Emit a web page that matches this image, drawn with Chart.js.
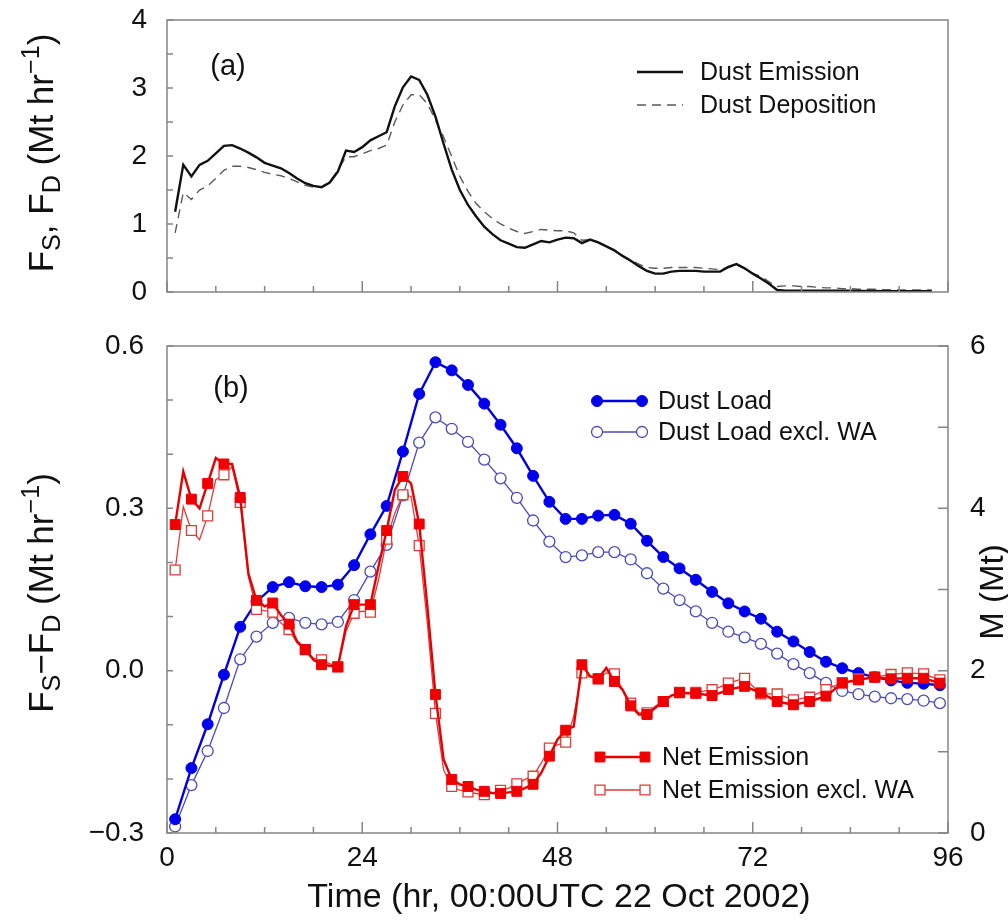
<!DOCTYPE html>
<html><head><meta charset="utf-8">
<script src="https://cdn.jsdelivr.net/npm/chart.js@4.4.1/dist/chart.umd.min.js"></script>
<style>
html,body{margin:0;padding:0;background:#fff;width:1008px;height:924px;overflow:hidden}
#c1{position:absolute;left:0;top:0}
#c2{position:absolute;left:0;top:320px}
</style></head><body>
<canvas id="c1" width="1008" height="320"></canvas>
<canvas id="c2" width="1008" height="604"></canvas>
<script>
// ---------- DATA ----------
const hoursTop = [1,2,3,4,5,6,7,8,9,10,11,12,13,14,15,16,17,18,19,20,21,22,23,24,25,26,27,28,29,30,
  31,32,33,34,35,36,37,38,39,40,41,42,43,44,45,46,47,48,49,50,51,52,53,54,55,56,57,58,59,60,
  61,62,63,64,65,66,67,68,69,70,71,72,73,74,75,76,77,78,79,80,81,82,83,84,85,86,87,88,89,90,91,92,93,94];
const dustEmission = [1.18,1.87,1.70,1.87,1.93,2.04,2.15,2.16,2.11,2.05,
  1.98,1.90,1.86,1.82,1.75,1.67,1.60,1.56,1.54,1.61,
  1.77,2.08,2.06,2.13,2.23,2.29,2.35,2.73,3.01,3.17,
  3.12,2.90,2.58,2.18,1.80,1.50,1.28,1.11,0.96,0.85,
  0.76,0.71,0.66,0.65,0.70,0.75,0.73,0.77,0.80,0.79,
  0.72,0.77,0.73,0.67,0.61,0.53,0.46,0.38,0.31,0.27,
  0.27,0.30,0.31,0.31,0.31,0.30,0.30,0.30,0.37,0.41,
  0.35,0.27,0.20,0.12,0.03,
  0.02,0.02,0.02,0.02,0.02,0.02,0.02,0.02,0.02,0.015,0.015,0.015,0.01,0.01,0.01,0.01,0.01,0.01,0.01];
const dustDeposition = [0.87,1.46,1.36,1.50,1.56,1.67,1.79,1.85,1.85,1.83,
  1.80,1.76,1.73,1.71,1.67,1.62,1.57,1.54,1.55,1.62,
  1.79,1.99,1.99,2.03,2.08,2.11,2.16,2.50,2.75,2.90,
  2.90,2.77,2.53,2.28,1.99,1.70,1.48,1.30,1.18,1.08,
  1.00,0.94,0.89,0.86,0.89,0.92,0.91,0.90,0.90,0.87,
  0.76,0.77,0.73,0.68,0.62,0.54,0.47,0.41,0.36,0.35,
  0.35,0.36,0.36,0.36,0.36,0.35,0.34,0.33,0.36,0.40,
  0.34,0.27,0.23,0.15,0.08,
  0.09,0.09,0.08,0.08,0.07,0.06,0.06,0.05,0.05,0.04,0.04,0.04,0.035,0.035,0.03,0.03,0.03,0.03,0.03];

const loadHours = [1,3,5,7,9,11,13,15,17,19,21,23,25,27,29,31,33,35,37,39,41,43,45,47,
  49,51,53,55,57,59,61,63,65,67,69,71,73,75,77,79,81,83,85,87,89,91,93,95];
const dustLoad = [0.17,0.80,1.34,1.95,2.54,2.85,3.03,3.09,3.04,3.03,3.06,3.30,3.68,4.03,4.70,5.41,5.80,5.70,5.52,5.29,5.03,4.74,4.40,4.08,
  3.87,3.87,3.91,3.92,3.81,3.60,3.40,3.26,3.12,2.97,2.83,2.73,2.64,2.48,2.36,2.23,2.11,2.03,1.97,1.92,1.88,1.85,1.84,1.82];
const dustLoadExcl = [0.08,0.59,1.01,1.54,2.14,2.42,2.59,2.65,2.59,2.57,2.60,2.87,3.22,3.55,4.16,4.81,5.12,4.98,4.82,4.60,4.37,4.13,3.85,3.59,
  3.40,3.42,3.46,3.46,3.37,3.20,3.01,2.87,2.73,2.59,2.48,2.41,2.33,2.21,2.08,1.97,1.85,1.75,1.71,1.68,1.66,1.65,1.63,1.60];

const netHours = [1,2,3,4,5,6,7,8,9,10,11,12,13,14,15,16,17,18,19,20,21,22,23,24,25,26,27,28,29,30,
  31,32,33,34,35,36,37,38,39,40,41,42,43,44,45,46,47,48,49,50,51,52,53,54,55,56,57,58,59,60,
  61,62,63,64,65,66,67,68,69,71,73,75,77,79,81,83,85,87,89,91,93,95];
const netEmission = [0.270,0.368,0.317,0.300,0.346,0.393,0.382,0.382,0.320,0.180,
  0.130,0.119,0.125,0.103,0.086,0.054,0.039,0.020,0.011,0.009,
  0.007,0.082,0.122,0.122,0.122,0.193,0.259,0.334,0.359,0.346,
  0.271,0.119,-0.044,-0.164,-0.201,-0.210,-0.214,-0.220,-0.223,-0.226,
  -0.227,-0.225,-0.223,-0.217,-0.210,-0.189,-0.158,-0.127,-0.110,-0.103,
  0.011,-0.010,-0.015,0.005,-0.020,-0.035,-0.065,-0.081,-0.081,-0.069,
  -0.057,-0.046,-0.041,-0.042,-0.042,-0.044,-0.046,-0.041,-0.035,
  -0.029,-0.041,-0.057,-0.063,-0.057,-0.047,-0.023,-0.017,-0.012,-0.015,-0.014,-0.014,-0.023];
const netEmissionExcl = [0.186,0.303,0.259,0.242,0.286,0.353,0.362,0.377,0.311,0.174,
  0.113,0.111,0.108,0.088,0.076,0.051,0.039,0.023,0.020,0.013,
  0.007,0.073,0.106,0.110,0.108,0.168,0.243,0.291,0.325,0.322,
  0.231,0.088,-0.079,-0.183,-0.214,-0.221,-0.224,-0.227,-0.229,-0.226,
  -0.221,-0.217,-0.209,-0.201,-0.195,-0.171,-0.143,-0.137,-0.132,-0.084,
  -0.004,-0.012,-0.015,-0.004,-0.006,-0.035,-0.060,-0.078,-0.078,-0.066,
  -0.057,-0.046,-0.040,-0.040,-0.040,-0.038,-0.035,-0.030,-0.023,
  -0.014,-0.043,-0.043,-0.054,-0.049,-0.035,-0.022,-0.015,-0.012,-0.007,-0.004,-0.006,-0.017];

const xTickLabels = [0,24,48,72,96];
const topYLabels = [0,1,2,3,4];
const leftYLabels = [-0.3,0.0,0.3,0.6];
const rightYLabels = [0,2,4,6];

// ---------- HELPERS ----------
const FONT = '"Liberation Sans", Arial, Helvetica, sans-serif';
const pts = (xs, ys) => xs.map((x, i) => ({x: x, y: ys[i]}));
const fmtMinus = s => s.replace('-', '\u2212');

function drawRich(ctx, parts, cx, cy, size, rot) {
  ctx.save();
  ctx.translate(cx, cy); ctx.rotate(rot);
  ctx.textBaseline = 'alphabetic'; ctx.textAlign = 'left'; ctx.fillStyle = '#111';
  let w = 0;
  parts.forEach(p => {
    p.s = (p.sub || p.sup) ? size * 0.72 : size;
    ctx.font = p.s + 'px ' + FONT;
    p.w = ctx.measureText(p.t).width; w += p.w;
  });
  let x = -w / 2; const base = size * 0.36;
  parts.forEach(p => {
    ctx.font = p.s + 'px ' + FONT;
    const dy = p.sub ? size * 0.22 : (p.sup ? -size * 0.40 : 0);
    ctx.fillText(p.t, x, base + dy); x += p.w;
  });
  ctx.restore();
}

function marker(ctx, style, x, y, r, fill, stroke, bw) {
  ctx.save();
  ctx.setLineDash([]);
  ctx.fillStyle = fill; ctx.strokeStyle = stroke; ctx.lineWidth = bw;
  ctx.beginPath();
  if (style === 'rect') { const s = r * Math.SQRT1_2; ctx.rect(x - s, y - s, 2 * s, 2 * s); }
  else ctx.arc(x, y, r, 0, Math.PI * 2);
  ctx.fill(); ctx.stroke();
  ctx.restore();
}

const decor = {
  id: 'decor',
  afterDraw(chart, args, o) {
    const {ctx, chartArea: a, scales} = chart;
    ctx.save();
    // frame and inward tick marks
    ctx.strokeStyle = '#858585'; ctx.lineWidth = 1.5; ctx.setLineDash([]);
    ctx.strokeRect(a.left, a.top, a.right - a.left, a.bottom - a.top);
    ctx.beginPath();
    scales.x.ticks.forEach(t => {
      const px = scales.x.getPixelForValue(t.value);
      const L = (t.value % 24 === 0) ? 11 : 6;
      ctx.moveTo(px, a.bottom); ctx.lineTo(px, a.bottom - L);
    });
    scales.y.ticks.forEach(t => {
      const py = scales.y.getPixelForValue(t.value);
      ctx.moveTo(a.left, py); ctx.lineTo(a.left + 6, py);
    });
    if (scales.y2) scales.y2.ticks.forEach(t => {
      const py = scales.y2.getPixelForValue(t.value);
      ctx.moveTo(a.right, py); ctx.lineTo(a.right - 10, py);
    });
    ctx.stroke();
    // tick labels (from the scales' own ticks)
    ctx.fillStyle = '#111'; ctx.font = '28px ' + FONT; ctx.textBaseline = 'middle';
    if (o.xLabels) {
      ctx.textAlign = 'center';
      scales.x.ticks.forEach(t => { if (t.label) ctx.fillText(t.label, scales.x.getPixelForValue(t.value), a.bottom + o.xLabels.dy); });
    }
    ctx.textAlign = 'right';
    scales.y.ticks.forEach(t => { if (t.label) ctx.fillText(t.label, o.yLabelRight, scales.y.getPixelForValue(t.value)); });
    if (scales.y2) {
      ctx.textAlign = 'left';
      scales.y2.ticks.forEach(t => { if (t.label) ctx.fillText(t.label, o.y2LabelLeft, scales.y2.getPixelForValue(t.value)); });
    }
    // panel label
    ctx.font = '29px ' + FONT; ctx.textAlign = 'center';
    ctx.fillText(o.panel.text, o.panel.x, o.panel.y);
    // axis titles
    (o.titles || []).forEach(t => drawRich(ctx, t.parts, t.x, t.y, t.size, t.rot));
    // legend
    (o.legend || []).forEach(it => {
      const ds = chart.data.datasets[it.ds];
      ctx.save();
      ctx.strokeStyle = ds.borderColor; ctx.lineWidth = ds.borderWidth;
      ctx.setLineDash(ds.borderDash || []);
      ctx.beginPath(); ctx.moveTo(it.x1, it.y); ctx.lineTo(it.x2, it.y); ctx.stroke();
      ctx.restore();
      if (it.markers) {
        [it.x1, it.x2].forEach(mx => marker(ctx, ds.pointStyle, mx, it.y, it.r, ds.pointBackgroundColor, ds.pointBorderColor, ds.pointBorderWidth));
      }
      ctx.fillStyle = '#111'; ctx.font = '25px ' + FONT; ctx.textAlign = 'left'; ctx.textBaseline = 'middle';
      ctx.fillText(ds.label, it.tx, it.y + 1);
    });
    ctx.restore();
  }
};

// ---------- TOP CHART (a) ----------
new Chart(document.getElementById('c1'), {
  type: 'line',
  data: {
    datasets: [
      {label: 'Dust Emission', data: pts(hoursTop, dustEmission), borderColor: '#111', borderWidth: 2.4, pointRadius: 0, tension: 0, fill: false},
      {label: 'Dust Deposition', data: pts(hoursTop, dustDeposition), borderColor: '#5a5a5a', borderWidth: 1.4, borderDash: [9, 6], pointRadius: 0, tension: 0, fill: false}
    ]
  },
  options: {
    responsive: false, animation: false, events: [],
    layout: {padding: {top: 20, right: 60, left: 0, bottom: 0}},
    plugins: {
      legend: {display: false}, tooltip: {enabled: false},
      decor: {
        yLabelRight: 147,
        panel: {text: '(a)', x: 228, y: 67},
        titles: [{parts: [{t: 'F'}, {t: 'S', sub: 1}, {t: ', F'}, {t: 'D', sub: 1}, {t: ' (Mt hr'}, {t: '\u22121', sup: 1}, {t: ')'}], x: 40, y: 153, size: 35, rot: -Math.PI / 2}],
        legend: [
          {ds: 0, x1: 637, x2: 683, y: 72, tx: 700},
          {ds: 1, x1: 637, x2: 683, y: 105, tx: 700}
        ]
      }
    },
    scales: {
      x: {type: 'linear', min: 0, max: 96, grid: {display: false}, border: {display: false},
          ticks: {display: false, stepSize: 6, autoSkip: false},
          afterFit: s => { s.height = 28; }},
      y: {type: 'linear', min: 0, max: 4, grid: {display: false}, border: {display: false},
          ticks: {display: false, stepSize: 0.5, autoSkip: false,
                  callback: v => topYLabels.includes(v) ? String(v) : ''},
          afterFit: s => { s.width = 167; }}
    }
  },
  plugins: [decor]
});

// ---------- BOTTOM CHART (b) ----------
const oddR = r => ctx => (ctx.raw && ctx.raw.x % 2 === 1) ? r : 0;
new Chart(document.getElementById('c2'), {
  type: 'line',
  data: {
    datasets: [
      {label: 'Dust Load', data: pts(loadHours, dustLoad), yAxisID: 'y2', order: 3,
       borderColor: '#0000e0', borderWidth: 2.4, pointStyle: 'circle', pointRadius: 5.5,
       pointBackgroundColor: '#0000ee', pointBorderColor: '#0000ee', pointBorderWidth: 1, tension: 0, fill: false},
      {label: 'Dust Load excl. WA', data: pts(loadHours, dustLoadExcl), yAxisID: 'y2', order: 4,
       borderColor: '#4a4ac0', borderWidth: 1.3, pointStyle: 'circle', pointRadius: 5.5,
       pointBackgroundColor: '#ffffff', pointBorderColor: '#4a4ac0', pointBorderWidth: 1.3, tension: 0, fill: false},
      {label: 'Net Emission', data: pts(netHours, netEmission), yAxisID: 'y', order: 1,
       borderColor: '#e60000', borderWidth: 2.4, pointStyle: 'rect', pointRadius: oddR(7),
       pointBackgroundColor: '#f00000', pointBorderColor: '#f00000', pointBorderWidth: 1, tension: 0, fill: false},
      {label: 'Net Emission excl. WA', data: pts(netHours, netEmissionExcl), yAxisID: 'y', order: 2,
       borderColor: '#e33a3a', borderWidth: 1.3, pointStyle: 'rect', pointRadius: oddR(7),
       pointBackgroundColor: '#ffffff', pointBorderColor: '#e33a3a', pointBorderWidth: 1.3, tension: 0, fill: false}
    ]
  },
  options: {
    responsive: false, animation: false, events: [],
    layout: {padding: {top: 26, right: 0, left: 0, bottom: 0}},
    plugins: {
      legend: {display: false}, tooltip: {enabled: false},
      decor: {
        xLabels: {dy: 25},
        yLabelRight: 144,
        y2LabelLeft: 970,
        panel: {text: '(b)', x: 231, y: 69},
        titles: [
          {parts: [{t: 'F'}, {t: 'S', sub: 1}, {t: '\u2212F'}, {t: 'D', sub: 1}, {t: ' (Mt hr'}, {t: '\u22121', sup: 1}, {t: ')'}], x: 40, y: 273, size: 35, rot: -Math.PI / 2},
          {parts: [{t: 'M (Mt)'}], x: 991, y: 272, size: 33, rot: -Math.PI / 2},
          {parts: [{t: 'Time (hr, 00:00UTC 22 Oct 2002)'}], x: 559, y: 575, size: 34, rot: 0}
        ],
        legend: [
          {ds: 0, x1: 597, x2: 642, y: 81, tx: 658, markers: true, r: 5.5},
          {ds: 1, x1: 597, x2: 642, y: 112, tx: 658, markers: true, r: 5.5},
          {ds: 2, x1: 600, x2: 645, y: 437, tx: 662, markers: true, r: 7},
          {ds: 3, x1: 600, x2: 645, y: 470, tx: 662, markers: true, r: 7}
        ]
      }
    },
    scales: {
      x: {type: 'linear', min: 0, max: 96, grid: {display: false}, border: {display: false},
          ticks: {display: false, stepSize: 6, autoSkip: false,
                  callback: v => xTickLabels.includes(v) ? String(v) : ''},
          afterFit: s => { s.height = 91; }},
      y: {type: 'linear', position: 'left', min: -0.3, max: 0.6, grid: {display: false}, border: {display: false},
          ticks: {display: false, stepSize: 0.1, autoSkip: false,
                  callback: v => { const r = Math.round(v * 10) / 10; return leftYLabels.some(l => Math.abs(l - r) < 1e-9) ? fmtMinus(r.toFixed(1)) : ''; }},
          afterFit: s => { s.width = 167; }},
      y2: {type: 'linear', position: 'right', min: 0, max: 6, grid: {display: false}, border: {display: false},
          ticks: {display: false, stepSize: 1, autoSkip: false,
                  callback: v => rightYLabels.includes(v) ? String(v) : ''},
          afterFit: s => { s.width = 60; }}
    }
  },
  plugins: [decor]
});
</script></body></html>
